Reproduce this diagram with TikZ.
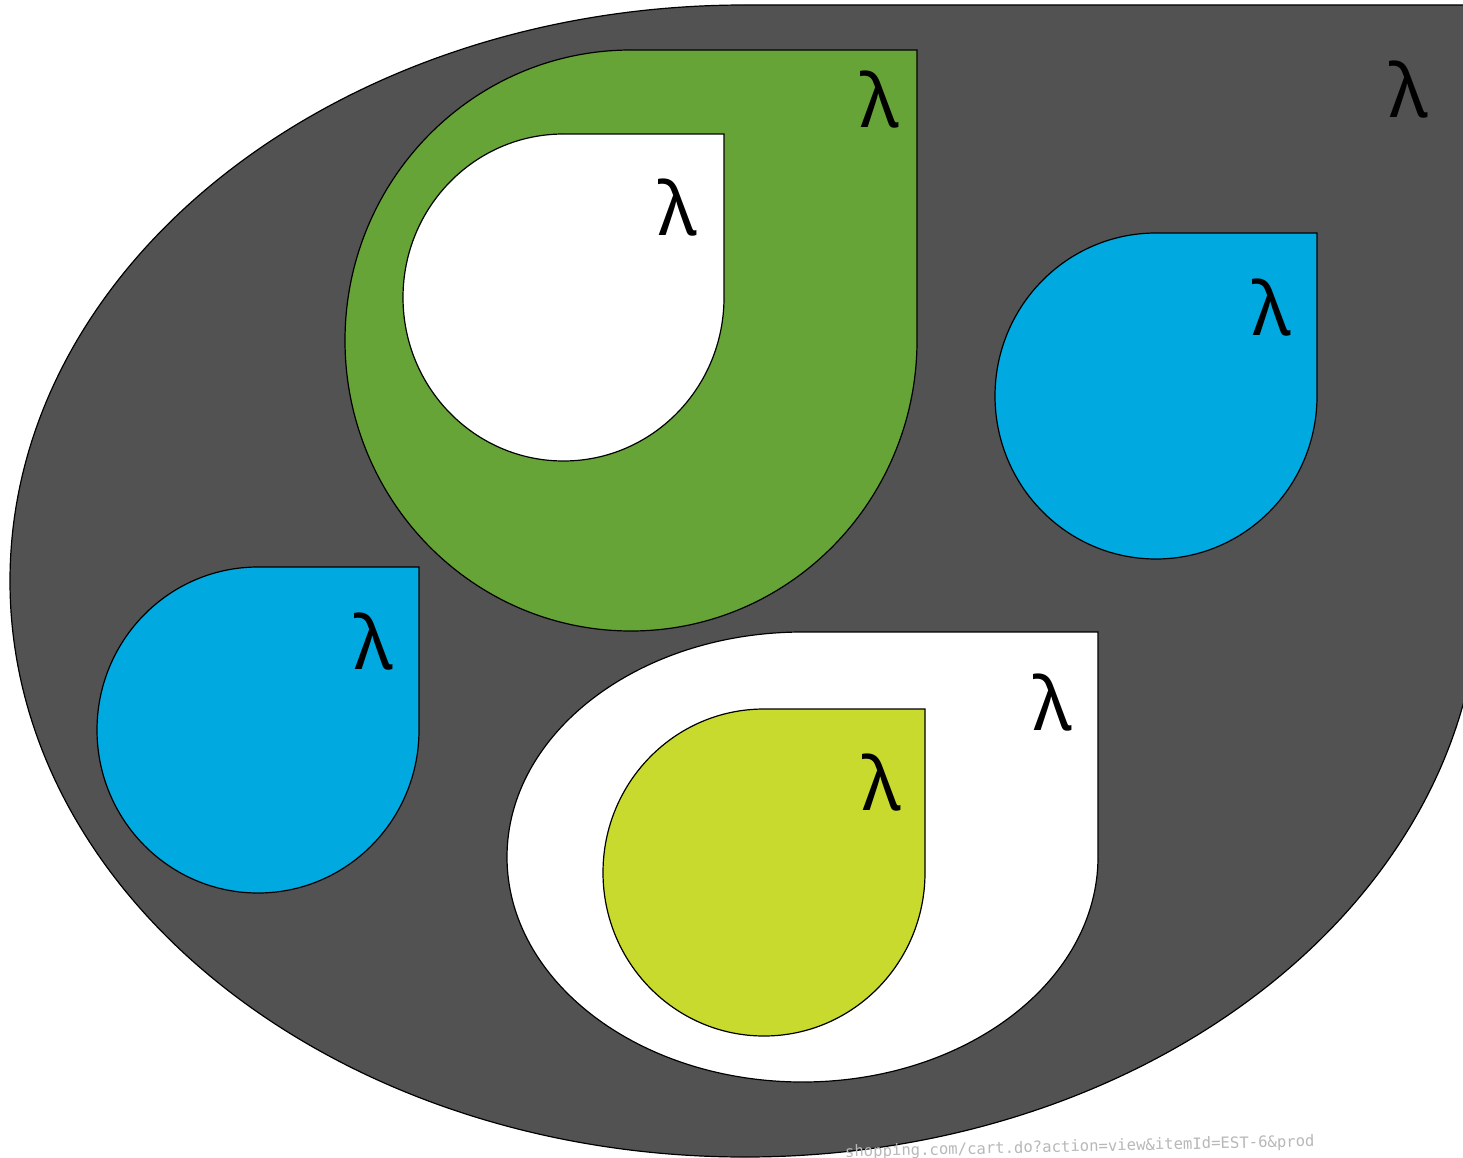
\documentclass[tikz,border=0pt]{standalone}
\usepackage{fontspec}
\newfontfamily\lamfont{Noto Sans}
\newfontfamily\wmfont{DejaVu Sans Mono}
\definecolor{outergray}{HTML}{525252}
\definecolor{leafgreen}{HTML}{67A437}
\definecolor{skyblue}{HTML}{00A9E0}
\definecolor{limeyellow}{HTML}{C9DA2F}
\tikzset{
  dropshape/.style={draw=black, line width=1.2pt},
  lam/.style={font=\lamfont\fontsize{74}{80}\selectfont, text=black, inner sep=0pt},
  watermark/.style={font=\wmfont\fontsize{15.6}{17}\selectfont, text=black!28, inner sep=0pt, anchor=base west, rotate=1.3}
}
% teardrop: centre x, centre y (image coords, y down), x radius, y radius, fill colour
\newcommand\tdrop[5]{%
  \filldraw[dropshape, fill=#5] ({#1-#3},{-#2}) arc[start angle=180, end angle=90, x radius=#3, y radius=#4]
    -- ({#1+#3},{-#2+#4}) -- ({#1+#3},{-#2})
    arc[start angle=0, end angle=-180, x radius=#3, y radius=#4] -- cycle;}
\begin{document}
\begin{tikzpicture}[x=1pt, y=1pt]
  \useasboundingbox (0,0) rectangle (1463,-1158);
  \clip (0,0) rectangle (1463,-1158);
  \fill[white] (0,0) rectangle (1463,-1158);
  % outer teardrop
  \tdrop{745}{581}{735}{576}{outergray}
  % green teardrop with white inner
  \tdrop{631}{340.5}{286}{290.5}{leafgreen}
  \tdrop{563.5}{297.5}{160.5}{163.5}{white}
  % blue teardrops
  \tdrop{1156}{396}{161}{163}{skyblue}
  \tdrop{258}{730}{161}{163}{skyblue}
  % white bottom teardrop with lime inner
  \tdrop{802.5}{857}{295.5}{225}{white}
  \tdrop{764}{872.5}{161}{163.5}{limeyellow}
  % lambda labels
  \node[lam] (l1) at (1409,-90) {λ};
  \node[lam] (l2) at (880,-100) {λ};
  \node[lam] (l3) at (678,-208) {λ};
  \node[lam] (l4) at (1272,-308) {λ};
  \node[lam] (l5) at (374,-642) {λ};
  \node[lam] (l6) at (1053,-703) {λ};
  \node[lam] (l7) at (882,-783) {λ};
  % watermark
  \node[watermark] (wm) at (845,-1157) {shopping.com/cart.do?action=view\&itemId=EST-6\&prod};
\end{tikzpicture}
\end{document}
